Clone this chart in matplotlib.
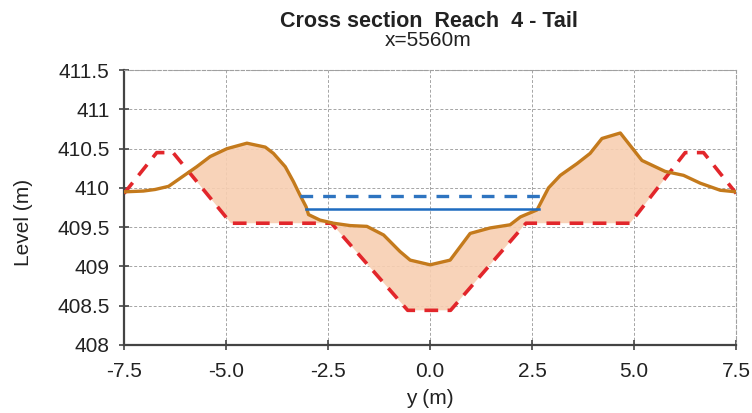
import matplotlib
matplotlib.use("Agg")
import matplotlib.pyplot as plt
import numpy as np

plt.rcParams['font.family'] = ['Liberation Sans', 'DejaVu Sans']

# existing terrain (cross section)
terrain_y = [-7.5, -7.03, -6.74, -6.41, -5.72, -5.39, -4.98, -4.49, -4.04, -3.84, -3.55, -3.35,
             -3.19, -3.04, -2.98, -2.70, -2.37, -1.96, -1.55, -1.14, -0.74, -0.49, 0.0,
             0.49, 0.98, 1.47, 1.96, 2.21, 2.62, 2.70, 2.90, 3.19, 3.60, 3.92, 4.21, 4.66,
             5.19, 5.76, 6.21, 6.62, 7.11, 7.5]
terrain_z = [409.95, 409.96, 409.98, 410.02, 410.27, 410.40, 410.50, 410.57, 410.52, 410.44, 410.27, 410.08,
             409.91, 409.76, 409.66, 409.59, 409.55, 409.52, 409.51, 409.40, 409.19, 409.08, 409.02,
             409.08, 409.42, 409.49, 409.53, 409.63, 409.72, 409.80, 410.00, 410.16, 410.31, 410.44, 410.63, 410.70,
             410.35, 410.21, 410.16, 410.06, 409.97, 409.95]

# design section
design_y = [-7.5, -6.7, -6.3, -4.88, -2.42, -0.55, 0.5, 2.35, 4.9, 6.25, 6.7, 7.5]
design_z = [409.93, 410.45, 410.45, 409.55, 409.55, 408.44, 408.44, 409.55, 409.55, 410.45, 410.45, 409.93]

# water levels
wl1_y = [-3.04, 2.66]
wl1_z = [409.73, 409.73]
wl2_y = [-3.20, 2.86]
wl2_z = [409.90, 409.90]

fig = plt.figure(figsize=(7.52, 4.13), dpi=100)
ax = fig.add_axes([0.165, 0.165, 0.814, 0.665])

# fill where terrain above design
yy = np.union1d(terrain_y, design_y)
tz = np.interp(yy, terrain_y, terrain_z)
dz = np.interp(yy, design_y, design_z)
ax.fill_between(yy, tz, dz, where=tz >= dz, interpolate=True, color='#f8cfb2', alpha=0.9, lw=0, zorder=1)

ax.plot(design_y, design_z, color='#e2262b', lw=2.6, ls=(0, (3.8, 2.6)), zorder=3)
ax.plot(terrain_y, terrain_z, color='#c47a1c', lw=2.4, zorder=4)
ax.plot(wl1_y, wl1_z, color='#1f6cc0', lw=1.8, zorder=5)
ax.plot(wl2_y, wl2_z, color='#2e74c0', lw=2.4, ls=(0, (3.8, 3.0)), zorder=5)

ax.set_xlim(-7.5, 7.5)
ax.set_ylim(408, 411.5)
ax.set_xticks([-7.5, -5.0, -2.5, 0.0, 2.5, 5.0, 7.5])
ax.set_xticklabels(['-7.5', '-5.0', '-2.5', '0.0', '2.5', '5.0', '7.5'])
ax.set_yticks([408, 408.5, 409, 409.5, 410, 410.5, 411, 411.5])
ax.set_yticklabels(['408', '408.5', '409', '409.5', '410', '410.5', '411', '411.5'])
ax.grid(True, color='#a5a5a5', ls=(0, (3, 2)), lw=0.7, zorder=0)
ax.set_axisbelow(True)

for s in ['top', 'right']:
    ax.spines[s].set_color('#a0a0a0')
    ax.spines[s].set_linestyle((0, (3, 2)))
    ax.spines[s].set_linewidth(0.8)
for s in ['left', 'bottom']:
    ax.spines[s].set_color('#444444')
    ax.spines[s].set_linewidth(1.6)
ax.tick_params(direction='inout', length=7, width=1.2, color='#444444', labelsize=15,
               labelcolor='#222222')
ax.tick_params(axis='x', pad=9)
ax.tick_params(axis='y', pad=7)

ax.set_xlabel('y (m)', fontsize=15, color='#222222', va='center')
ax.xaxis.set_label_coords(0.5, -0.196)
ax.set_ylabel('Level (m)', fontsize=15, color='#222222', va='center')
ax.yaxis.set_label_coords(-0.165, 0.447)

fig.text(0.57, 0.947, 'Cross section  Reach  4 - Tail', ha='center', va='center',
         fontsize=15.5, fontweight='bold', color='#222222')
fig.text(0.57, 0.902, 'x=5560m', ha='center', va='center', fontsize=15, color='#222222')

fig.savefig('out.png', dpi=100)
